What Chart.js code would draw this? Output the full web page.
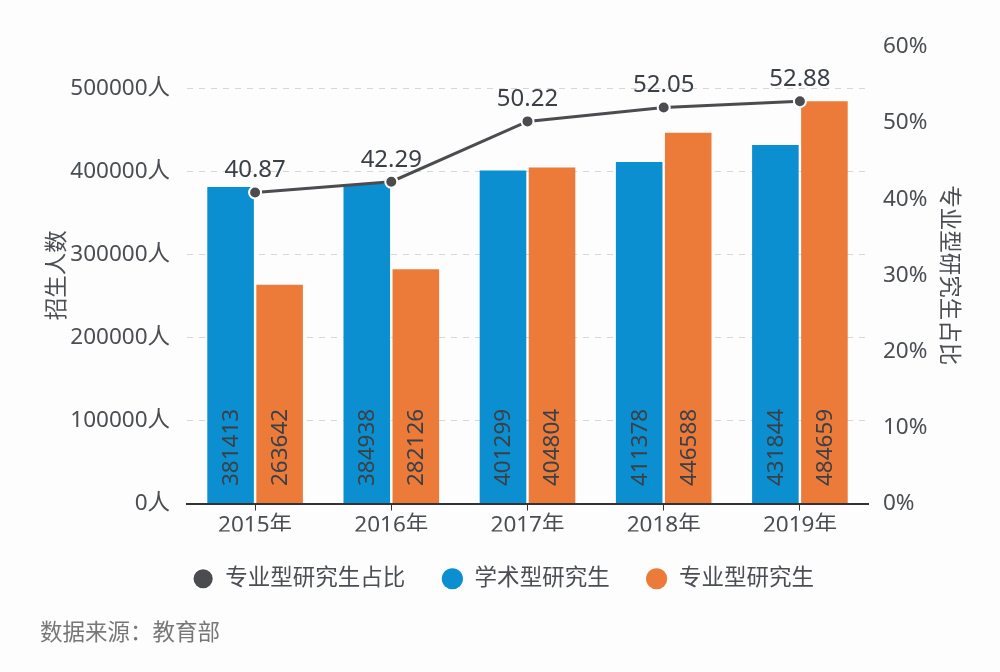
<!DOCTYPE html>
<html>
<head>
<meta charset="utf-8">
<script src="https://cdn.jsdelivr.net/npm/chart.js"></script>
<style>
  body { margin: 0; background: #fdfdfd; }
  #wrap { position: relative; width: 1000px; height: 672px; }
  #src { position: absolute; left: 40px; top: 614px; font: 22.5px "Noto Sans CJK SC"; color: #777; }
</style>
</head>
<body>
<div id="wrap">
  <canvas id="myChart" width="1000" height="672"></canvas>
  <div id="src">数据来源：教育部</div>
</div>
<script>
const years = ['2015年', '2016年', '2017年', '2018年', '2019年'];
const academic = [381413, 384938, 401299, 411378, 431844];
const professional = [263642, 282126, 404804, 446588, 484659];
const profShare = [40.87, 42.29, 50.22, 52.05, 52.88];
const countTicks = [0, 100000, 200000, 300000, 400000, 500000];
const shareTicks = [0, 10, 20, 30, 40, 50, 60];

const FONT = '"Noto Sans", "Noto Sans CJK SC", sans-serif';
const textColor = '#4a4d52';
const fontSize = 22.5;

// labels drawn by hand (no datalabels plugin)
const valueLabels = {
  id: 'valueLabels',
  afterDatasetsDraw(chart) {
    const ctx = chart.ctx;
    ctx.save();
    ctx.fillStyle = '#3b4047';
    chart.data.datasets.forEach((ds, i) => {
      const meta = chart.getDatasetMeta(i);
      meta.data.forEach((el, j) => {
        if (ds.type === 'line') {
          ctx.font = '24px ' + FONT;
          ctx.textAlign = 'center';
          ctx.textBaseline = 'bottom';
          ctx.fillText(ds.data[j].toFixed(2), el.x, el.y - 10);
        } else {
          ctx.font = '22.5px ' + FONT;
          ctx.save();
          ctx.translate(el.x, el.base - 17);
          ctx.rotate(-Math.PI / 2);
          ctx.textAlign = 'left';
          ctx.textBaseline = 'middle';
          ctx.fillText(String(ds.data[j]), 0, 1);
          ctx.restore();
        }
      });
    });
    ctx.restore();
  }
};

const ctx = document.getElementById('myChart');

new Chart(ctx, {
  type: 'bar',
  data: {
    labels: years,
    datasets: [
      {
        type: 'line',
        label: '专业型研究生占比',
        data: profShare,
        yAxisID: 'y1',
        borderColor: '#4a4c4f',
        backgroundColor: '#4a4c4f',
        borderWidth: 3,
        pointRadius: 6,
        pointBackgroundColor: '#4a4c4f',
        pointBorderColor: '#ffffff',
        pointBorderWidth: 2,
        tension: 0,
        order: 0
      },
      {
        label: '学术型研究生',
        data: academic,
        yAxisID: 'y',
        backgroundColor: '#0b8fd0',
        barPercentage: 0.95,
        categoryPercentage: 0.72,
        order: 1
      },
      {
        label: '专业型研究生',
        data: professional,
        yAxisID: 'y',
        backgroundColor: '#ec7b39',
        barPercentage: 0.95,
        categoryPercentage: 0.72,
        order: 1
      }
    ]
  },
  options: {
    responsive: false,
    animation: false,
    layout: { padding: { left: 40, right: 34, top: 47, bottom: 72 } },
    scales: {
      x: {
        afterFit: axis => { axis.height -= 10; },
        grid: { offset: false, drawOnChartArea: false, drawTicks: true, tickLength: 7, color: '#333' },
        border: { color: '#333', width: 2 },
        ticks: { font: { size: fontSize, family: FONT }, color: textColor, padding: 2 }
      },
      y: {
        position: 'left',
        min: 0,
        max: 550000,
        afterBuildTicks: axis => { axis.ticks = countTicks.map(v => ({ value: v })); },
        afterFit: axis => { axis.width = 147; },
        ticks: {
          font: { size: fontSize, family: FONT },
          color: textColor,
          padding: 17,
          callback: v => v + '人'
        },
        grid: { color: '#d6d6d6', drawTicks: false },
        border: { display: false, dash: [6, 6] },
        title: { display: true, text: '招生人数', font: { size: fontSize, family: FONT }, color: textColor, padding: 4 }
      },
      y1: {
        position: 'right',
        min: 0,
        max: 60,
        afterBuildTicks: axis => { axis.ticks = shareTicks.map(v => ({ value: v })); },
        afterFit: axis => { axis.width = 98; },
        ticks: {
          font: { size: fontSize, family: FONT },
          color: textColor,
          padding: 15,
          callback: v => v + '%'
        },
        grid: { drawOnChartArea: false, drawTicks: false },
        border: { display: false },
        title: { display: true, text: '专业型研究生占比', font: { size: fontSize, family: FONT }, color: textColor, padding: 4 }
      }
    },
    plugins: {
      legend: {
        position: 'bottom',
        labels: {
          usePointStyle: true,
          pointStyle: 'circle',
          boxWidth: 22,
          boxHeight: 15,
          padding: 36,
          color: textColor,
          font: { size: fontSize, family: FONT }
        }
      },
      tooltip: { enabled: false }
    }
  },
  plugins: [valueLabels]
});
</script>
</body>
</html>
